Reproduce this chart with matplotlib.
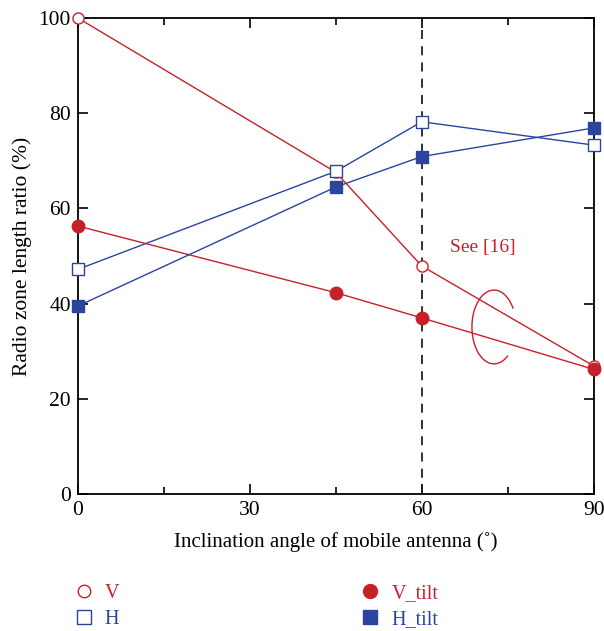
import matplotlib
matplotlib.use("Agg")
import matplotlib.pyplot as plt
from matplotlib.patches import Arc
from matplotlib.lines import Line2D

plt.rcParams['font.family'] = ['Liberation Serif', 'DejaVu Serif']

angles = [0, 45, 60, 90]
v_vals = [100, 67.6, 47.9, 26.9]
h_vals = [47.2, 67.8, 78.2, 73.3]
vtilt_vals = [56.3, 42.3, 37.0, 26.2]
htilt_vals = [39.5, 64.5, 70.9, 76.9]
labels = ['V', 'H', 'V_tilt', 'H_tilt']

RED = '#c8202a'
BLUE = '#2a44a0'

fig = plt.figure(figsize=(6.04, 6.31), dpi=100)
ax = fig.add_axes([0.129, 0.217, 0.854, 0.7545])

ax.plot(angles, v_vals, color=RED, lw=1.0, marker='o', ms=8, mfc='white', mec=RED, mew=1.0, zorder=3)
ax.plot(angles, h_vals, color=BLUE, lw=1.0, marker='s', ms=9, mfc='white', mec=BLUE, mew=1.0, zorder=3)
ax.plot(angles, vtilt_vals, color=RED, lw=1.0, marker='o', ms=9, mfc=RED, mec=RED, zorder=4)
ax.plot(angles, htilt_vals, color=BLUE, lw=1.0, marker='s', ms=9, mfc=BLUE, mec=BLUE, zorder=4)

ax.axvline(60, color='#222222', lw=1.3, ls=(0, (5, 4)), zorder=2)

ax.text(70.6, 51.7, 'See [16]', color=RED, fontsize=14, ha='center', va='center')
ax.add_patch(Arc((72.6, 35.1), 7.7, 15.5, theta1=49, theta2=292, color=RED, lw=1.0))

ax.set_xlim(0, 90)
ax.set_ylim(0, 100)
ax.set_xticks([0, 30, 60, 90])
ax.set_xticks([15, 45, 75], minor=True)
ax.set_yticks([0, 20, 40, 60, 80, 100])
ax.tick_params(which='both', direction='in', top=True, right=True, labelsize=15.5, width=1.2, pad=5)
ax.tick_params(which='major', length=7)
ax.tick_params(which='minor', length=5)
for s in ax.spines.values():
    s.set_linewidth(1.3)
for ln in ax.lines:
    ln.set_clip_on(False)

ax.set_xlabel('Inclination angle of mobile antenna (˚)', fontsize=15, labelpad=9)
ax.set_ylabel('Radio zone length ratio (%)', fontsize=15.5, labelpad=5)

handles = [
    Line2D([], [], ls='none', marker='o', ms=9, mfc='white', mec=RED, mew=1.0),
    Line2D([], [], ls='none', marker='s', ms=10, mfc='white', mec=BLUE, mew=1.0),
    Line2D([], [], ls='none', marker='o', ms=10, mfc=RED, mec=RED),
    Line2D([], [], ls='none', marker='s', ms=10, mfc=BLUE, mec=BLUE),
]
leg = fig.legend(handles, labels, ncol=2, loc='upper left', bbox_to_anchor=(0.092, 0.104),
                 frameon=False, fontsize=14.5, handlelength=1.0, handletextpad=0.55,
                 columnspacing=11.95, labelspacing=0.36)
for t, c in zip(leg.get_texts(), [RED, BLUE, RED, BLUE]):
    t.set_color(c)

fig.savefig('out.png', dpi=100)
